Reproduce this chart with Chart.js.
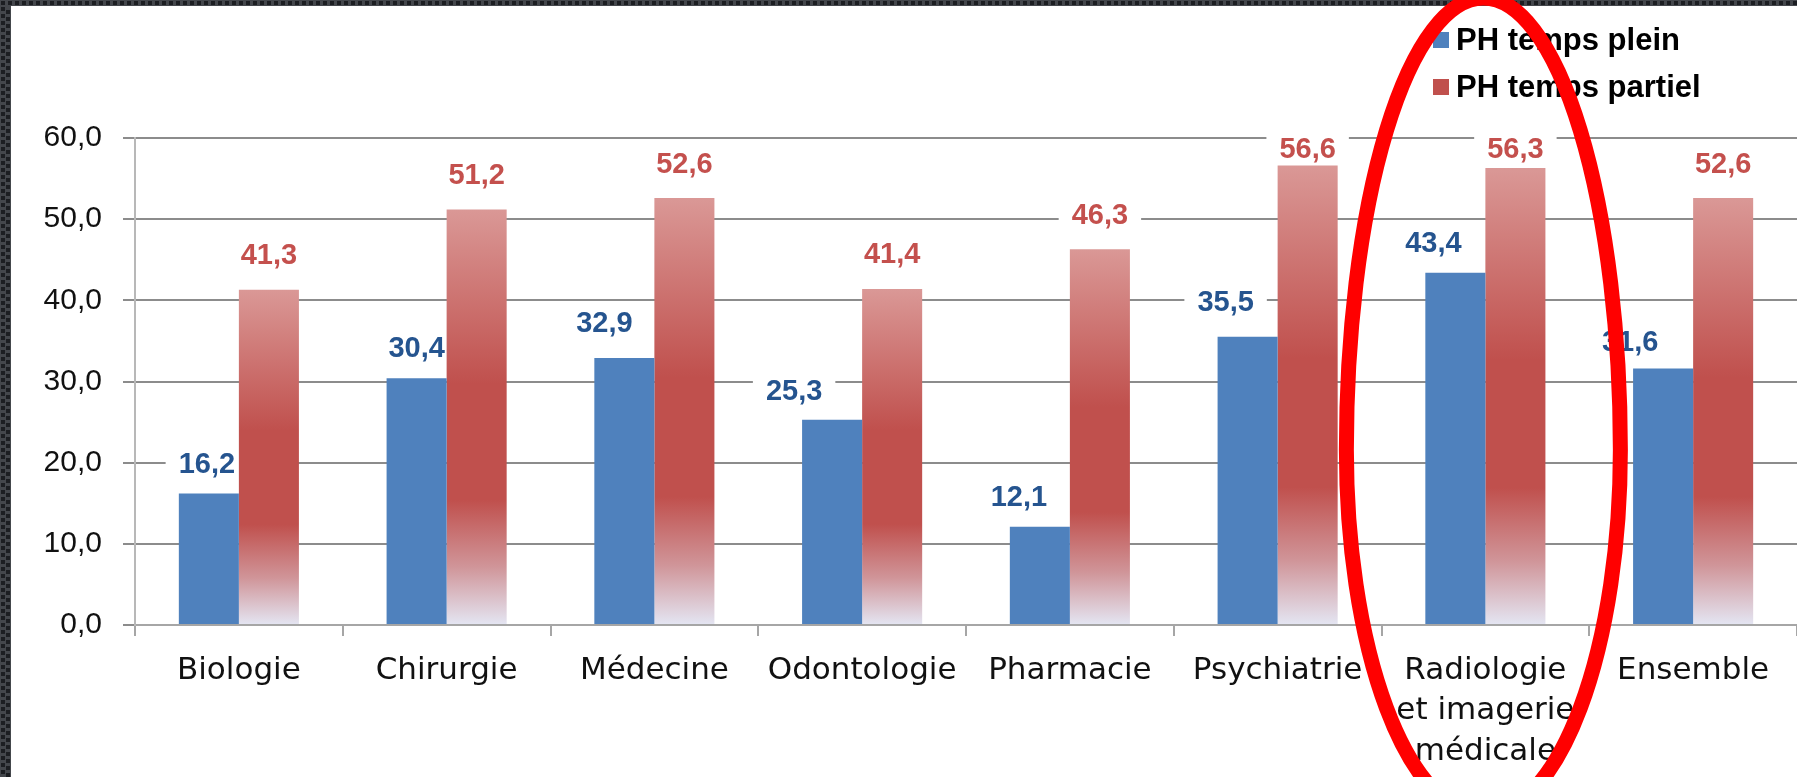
<!DOCTYPE html>
<html><head><meta charset="utf-8">
<script src="https://cdn.jsdelivr.net/npm/chart.js@4.4.1/dist/chart.umd.min.js"></script>
<style>html,body{margin:0;padding:0;background:#fff;overflow:hidden}#wrap{position:absolute;left:0;top:0;width:1797px;height:777px}</style>
</head><body><div id="wrap"><canvas id="c" width="1797" height="777"></canvas></div>
<script>
const categories = ['Biologie', 'Chirurgie', 'Médecine', 'Odontologie', 'Pharmacie', 'Psychiatrie', ['Radiologie', 'et imagerie', 'médicale'], 'Ensemble'];
const seriesNames = ['PH temps plein', 'PH temps partiel'];
const pleinValues = [16.2, 30.4, 32.9, 25.3, 12.1, 35.5, 43.4, 31.6];
const partielValues = [41.3, 51.2, 52.6, 41.4, 46.3, 56.6, 56.3, 52.6];
const yTicks = [0, 10, 20, 30, 40, 50, 60];
const highlightIndex = 6;

// label placement nudges (style, in px) as placed in the original
const pleinLabelDx = [-2, 0, -20, -38, -21, -22, -22, -33];
const pleinLabelDy = [31, 32, 36, 30, 31, 36, 31, 28];

const BLUE = '#4f81bd', RED = '#c0504d';
const LABEL_COLORS = ['#25548f', '#c4504d'];
const fmt = v => v.toFixed(1).replace('.', ',');

function redGradient(ctx) {
  const chart = ctx.chart;
  const ys = chart.scales && chart.scales.y;
  if (!ys || ctx.type !== 'data') return RED;
  const top = ys.getPixelForValue(ctx.raw), base = ys.getPixelForValue(0);
  if (!isFinite(top) || !isFinite(base) || base - top < 1) return RED;
  const g = chart.ctx.createLinearGradient(0, top, 0, base);
  g.addColorStop(0, '#da9896');
  g.addColorStop(0.42, '#c0504d');
  g.addColorStop(0.70, '#c0504d');
  g.addColorStop(0.86, '#d09599');
  g.addColorStop(1, '#e4e6f3');
  return g;
}

const borderPlugin = {
  id: 'border',
  beforeDraw(chart) {
    const c = chart.ctx, W = chart.width, H = chart.height;
    c.save();
    c.fillStyle = '#fff'; c.fillRect(0, 0, W, H);
    c.fillStyle = '#44474c'; c.fillRect(0, 0, W, 6); c.fillRect(0, 0, 11, H);
    c.fillStyle = '#1c1e22';
    for (let x = 0; x < W; x += 7) c.fillRect(x + 1, 1, 4, 4);
    for (let y = 6; y < H; y += 7) { c.fillRect(1, y + 1, 4, 4); c.fillRect(6, y + 4, 4, 4); }
    c.restore();
  }
};

function labelPos(chart, dsIndex, j, el) {
  const top = chart.chartArea.top;
  if (dsIndex === 0) return { x: el.x + pleinLabelDx[j], y: Math.max(el.y - pleinLabelDy[j], top + 9) };
  return { x: el.x, y: Math.max(el.y - 36, top + 9) };
}

const LABEL_FONT = 'bold 29px "Liberation Sans"';
const labelPlugin = {
  id: 'labels',
  beforeDatasetsDraw(chart) {
    const c = chart.ctx;
    c.save();
    c.font = LABEL_FONT;
    c.fillStyle = '#fff';
    chart.data.datasets.forEach((ds, i) => {
      chart.getDatasetMeta(i).data.forEach((el, j) => {
        const p = labelPos(chart, i, j, el);
        const w = c.measureText(fmt(ds.data[j])).width;
        c.fillRect(p.x - w / 2 - 13, p.y - 15, w + 26, 30);
      });
    });
    c.restore();
  },
  afterDatasetsDraw(chart) {
    const c = chart.ctx;
    c.save();
    c.font = LABEL_FONT;
    c.textAlign = 'center';
    c.textBaseline = 'alphabetic';
    chart.data.datasets.forEach((ds, i) => {
      c.fillStyle = LABEL_COLORS[i];
      chart.getDatasetMeta(i).data.forEach((el, j) => {
        const p = labelPos(chart, i, j, el);
        c.fillText(fmt(ds.data[j]), p.x, p.y + 10.5);
      });
    });
    c.restore();
  }
};

const overlayPlugin = {
  id: 'overlay',
  afterDraw(chart) {
    const c = chart.ctx;
    c.save();
    // legend
    const lx = 1433, rows = [40, 87];
    c.font = 'bold 31px "Liberation Sans"';
    c.textBaseline = 'middle';
    c.textAlign = 'left';
    seriesNames.forEach((n, i) => {
      c.fillStyle = i === 0 ? BLUE : RED;
      c.fillRect(lx, rows[i] - 8, 16, 16);
      c.fillStyle = '#000';
      c.fillText(n, lx + 23, rows[i] + 1);
    });
    // highlight ring (hand-drawn oval, narrower at the top)
    const xs = chart.scales.x;
    const cx = xs.getPixelForValue(highlightIndex) - 2;
    const cy = 450, rx = 137, rTop = 452, rBottom = 365;
    c.strokeStyle = '#ff0000';
    c.lineWidth = 15;
    c.beginPath();
    c.ellipse(cx, cy, rx, rBottom, 0, 0, Math.PI);
    c.ellipse(cx, cy, rx, rTop, 0, Math.PI, Math.PI * 2);
    c.closePath();
    c.stroke();
    c.restore();
  }
};

new Chart(document.getElementById('c'), {
  type: 'bar',
  data: {
    labels: categories,
    datasets: [
      { label: seriesNames[0], data: pleinValues, backgroundColor: BLUE, borderWidth: 0 },
      { label: seriesNames[1], data: partielValues, backgroundColor: redGradient, borderWidth: 0 }
    ]
  },
  options: {
    responsive: false,
    devicePixelRatio: 1,
    animation: false,
    datasets: { bar: { categoryPercentage: 0.578, barPercentage: 1.0 } },
    layout: { padding: { top: 138, right: 0, left: 0, bottom: 0 } },
    plugins: { legend: { display: false }, tooltip: { enabled: false } },
    scales: {
      x: {
        grid: { display: true, drawOnChartArea: false, drawTicks: true, tickLength: 11, color: '#a6a6a6', lineWidth: 2, offset: true },
        border: { display: true, color: '#a6a6a6', width: 2 },
        ticks: { font: { family: 'DejaVu Sans', size: 31, lineHeight: 1.32 }, color: '#111', padding: 14, maxRotation: 0, autoSkip: false },
        afterFit: s => { s.height = 152; }
      },
      y: {
        min: 0, max: 60,
        afterBuildTicks: s => { s.ticks = yTicks.map(v => ({ value: v })); },
        ticks: { callback: v => fmt(v), font: { family: 'Liberation Sans', size: 30 }, color: '#111', padding: 21 },
        grid: { color: '#8c8c8c', lineWidth: 2, tickLength: 12 },
        border: { display: true, color: '#b8b8b8', width: 2 },
        afterFit: s => { s.width = 135; }
      }
    }
  },
  plugins: [borderPlugin, labelPlugin, overlayPlugin]
});
</script>
</body></html>
